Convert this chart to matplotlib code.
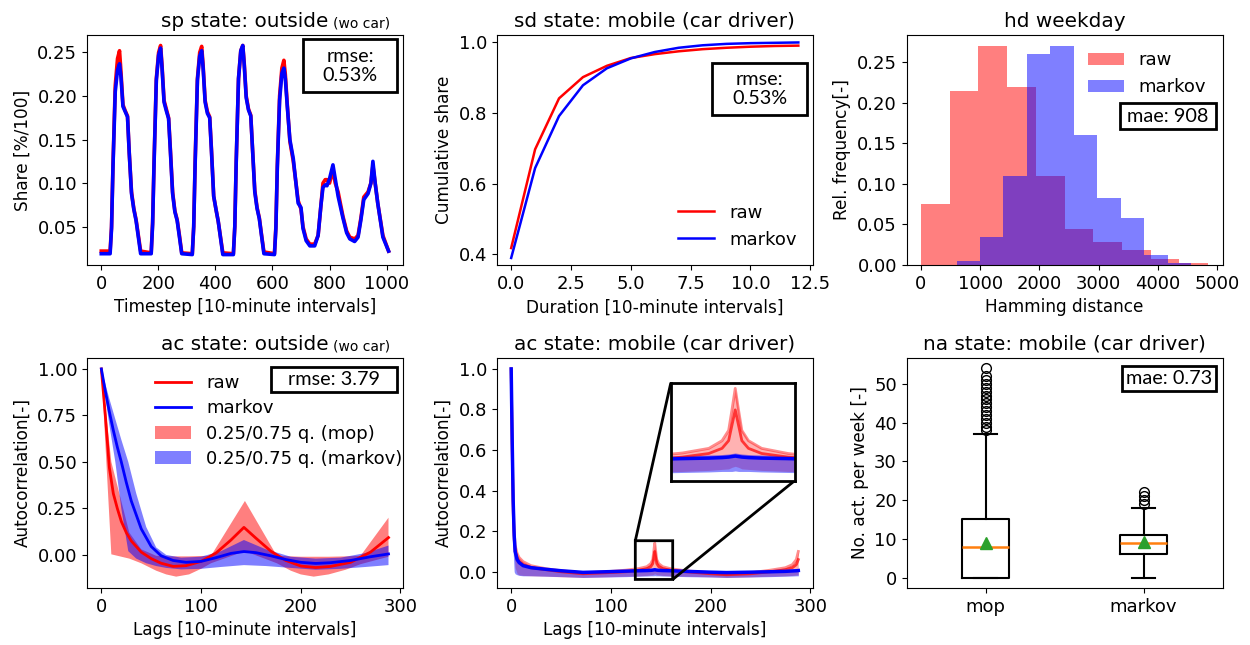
import numpy as np
import matplotlib.pyplot as plt
from matplotlib.patches import Rectangle

# ---- sp: share in state "outside" over one week (10-minute steps)
sp_t = [0, 31, 36, 41, 49, 57, 64, 69, 76, 84, 92, 98, 106, 114, 122, 130, 138,
        175, 180, 185, 193, 201, 208, 213, 220, 228, 236, 242, 250, 258, 266, 274, 282,
        319, 324, 329, 337, 345, 352, 357, 364, 372, 380, 386, 394, 402, 410, 418, 426,
        463, 468, 473, 481, 489, 496, 501, 508, 516, 524, 530, 538, 546, 554, 562, 570,
        607, 612, 617, 625, 633, 640, 645, 652, 661, 673, 690, 700, 707, 718, 731, 748,
        760, 770, 777, 785, 791, 800, 812, 820, 830, 847, 860, 871, 888, 900, 910, 920,
        935, 945, 952, 960, 969, 987, 1007]
sp_raw = [0.022, 0.022, 0.05, 0.12, 0.212, 0.243, 0.252, 0.228, 0.19, 0.183, 0.177, 0.135, 0.09, 0.071, 0.058, 0.04, 0.022,
          0.02, 0.055, 0.125, 0.22, 0.25, 0.258, 0.235, 0.195, 0.185, 0.175, 0.14, 0.09, 0.068, 0.058, 0.04, 0.02,
          0.019, 0.05, 0.125, 0.22, 0.25, 0.257, 0.235, 0.195, 0.182, 0.176, 0.14, 0.085, 0.07, 0.056, 0.038, 0.02,
          0.019, 0.05, 0.125, 0.22, 0.252, 0.258, 0.238, 0.2, 0.185, 0.178, 0.14, 0.092, 0.072, 0.06, 0.04, 0.021,
          0.019, 0.05, 0.12, 0.2, 0.232, 0.241, 0.225, 0.19, 0.148, 0.125, 0.08, 0.07, 0.05, 0.036, 0.03, 0.03,
          0.04, 0.075, 0.1, 0.104, 0.104, 0.1, 0.115, 0.1, 0.09, 0.062, 0.045, 0.038, 0.036, 0.04, 0.06, 0.084,
          0.09, 0.1, 0.12, 0.1, 0.077, 0.04, 0.022]
sp_markov = [0.019, 0.019, 0.048, 0.118, 0.205, 0.23, 0.237, 0.222, 0.188, 0.182, 0.176, 0.135, 0.088, 0.07, 0.057, 0.038, 0.019,
             0.019, 0.053, 0.122, 0.218, 0.247, 0.255, 0.232, 0.193, 0.183, 0.174, 0.138, 0.088, 0.067, 0.057, 0.038, 0.019,
             0.018, 0.05, 0.122, 0.218, 0.246, 0.252, 0.232, 0.193, 0.18, 0.175, 0.138, 0.085, 0.07, 0.056, 0.037, 0.018,
             0.018, 0.05, 0.125, 0.22, 0.252, 0.258, 0.236, 0.198, 0.184, 0.177, 0.14, 0.09, 0.071, 0.059, 0.039, 0.019,
             0.018, 0.048, 0.118, 0.195, 0.226, 0.232, 0.22, 0.188, 0.15, 0.128, 0.077, 0.072, 0.048, 0.034, 0.028, 0.028,
             0.04, 0.075, 0.095, 0.098, 0.097, 0.105, 0.121, 0.105, 0.085, 0.06, 0.043, 0.036, 0.033, 0.038, 0.058, 0.081,
             0.088, 0.1, 0.125, 0.1, 0.077, 0.038, 0.022]

# ---- sd: cumulative share of activity durations (car driver)
sd_dur = [0, 1, 2, 3, 4, 5, 6, 7, 8, 9, 10, 11, 12]
sd_raw = [0.418, 0.697, 0.841, 0.901, 0.933, 0.955, 0.966, 0.974, 0.98, 0.984, 0.987, 0.989, 0.99]
sd_markov = [0.39, 0.644, 0.791, 0.878, 0.926, 0.954, 0.972, 0.984, 0.991, 0.995, 0.997, 0.998, 0.999]

# ---- hd: hamming distance histogram (weekday)
hd_raw_edges = [0, 485, 970, 1455, 1940, 2425, 2910, 3395, 3880, 4365, 4850]
hd_raw_freq = [0.075, 0.215, 0.27, 0.22, 0.11, 0.045, 0.028, 0.018, 0.007, 0.003]
hd_markov_edges = [600, 996, 1392, 1788, 2184, 2580, 2976, 3372, 3768, 4164, 4560]
hd_markov_freq = [0.005, 0.035, 0.11, 0.26, 0.27, 0.16, 0.083, 0.058, 0.012, 0.003]

# ---- ac: autocorrelation outside (wo car)
ac_lags = [0, 4, 8, 12, 16, 20, 25, 30, 40, 50, 60, 72, 85, 100, 115, 130, 143, 155, 170, 185,
           200, 215, 230, 250, 270, 288]
ac_raw = [1.0, 0.75, 0.47, 0.33, 0.25, 0.18, 0.12, 0.075, 0.015, -0.02, -0.045, -0.062, -0.058,
          -0.035, 0.01, 0.08, 0.148, 0.09, 0.02, -0.03, -0.06, -0.068, -0.062, -0.04, 0.015, 0.093]
ac_markov = [1.0, 0.88, 0.77, 0.67, 0.58, 0.5, 0.39, 0.29, 0.14, 0.045, -0.005, -0.03, -0.04,
             -0.035, -0.015, 0.008, 0.018, 0.012, -0.005, -0.025, -0.04, -0.046, -0.042, -0.03, -0.01, 0.005]
acq_raw_lags = [0, 10, 28, 40, 55, 65, 75, 88, 100, 110, 144, 176, 190, 200, 213, 228, 245, 260, 288]
acq_raw_hi = [1.0, 0.5, 0.12, 0.03, -0.005, -0.008, -0.008, -0.008, -0.006, -0.005, 0.29, -0.005,
              -0.008, -0.01, -0.01, -0.01, -0.008, -0.005, 0.2]
acq_raw_lo = [1.0, 0.003, -0.02, -0.045, -0.085, -0.105, -0.117, -0.105, -0.075, -0.045, 0.02, -0.045,
              -0.085, -0.105, -0.117, -0.105, -0.08, -0.05, -0.01]
acq_mk_lags = [0, 8, 14, 20, 27, 35, 45, 55, 65, 80, 100, 120, 143, 165, 190, 215, 240, 265, 288]
acq_mk_hi = [1.0, 0.84, 0.73, 0.62, 0.5, 0.33, 0.15, 0.04, 0.0, -0.015, -0.01, 0.02, 0.08, 0.03,
             -0.01, -0.02, -0.015, 0.01, 0.05]
acq_mk_lo = [1.0, 0.7, 0.5, 0.25, 0.02, -0.02, -0.045, -0.06, -0.07, -0.078, -0.075, -0.065, -0.055,
             -0.06, -0.07, -0.08, -0.075, -0.065, -0.055]

# ---- ac: autocorrelation mobile (car driver)
cd_lags = [0, 1, 2, 3, 4, 6, 8, 12, 20, 35, 50, 72, 95, 115, 128, 136, 140, 142, 143, 144, 145,
           146, 148, 152, 160, 175, 200, 216, 240, 260, 275, 282, 286, 288]
cd_raw = [1.0, 0.6, 0.3, 0.16, 0.1, 0.065, 0.05, 0.035, 0.02, 0.01, 0.0, -0.01, -0.005, 0.0, 0.008,
          0.015, 0.025, 0.04, 0.07, 0.1, 0.07, 0.04, 0.025, 0.015, 0.008, 0.0, -0.01, -0.015, -0.01,
          0.0, 0.01, 0.02, 0.035, 0.06]
cd_raw_hi = [1.0, 0.65, 0.35, 0.2, 0.13, 0.09, 0.07, 0.05, 0.03, 0.015, 0.005, -0.005, 0.0, 0.008,
             0.016, 0.025, 0.04, 0.06, 0.1, 0.142, 0.1, 0.06, 0.04, 0.025, 0.015, 0.005, -0.005, -0.01,
             -0.005, 0.008, 0.02, 0.035, 0.06, 0.1]
cd_raw_lo = [1.0, 0.5, 0.2, 0.08, 0.02, -0.01, -0.015, -0.018, -0.02, -0.022, -0.025, -0.028, -0.025,
             -0.022, -0.02, -0.018, -0.016, -0.015, -0.012, -0.01, -0.012, -0.015, -0.016, -0.018,
             -0.02, -0.022, -0.025, -0.028, -0.025, -0.022, -0.02, -0.018, -0.016, -0.015]
cd_markov = [1.0, 0.65, 0.35, 0.18, 0.1, 0.06, 0.045, 0.03, 0.02, 0.012, 0.005, -0.003, 0.0, 0.003,
             0.005, 0.006, 0.007, 0.008, 0.009, 0.01, 0.009, 0.008, 0.007, 0.006, 0.005, 0.002, -0.002,
             -0.004, -0.002, 0.0, 0.002, 0.004, 0.005, 0.006]
cd_markov_hi = [1.0, 0.7, 0.4, 0.22, 0.13, 0.08, 0.06, 0.042, 0.03, 0.02, 0.012, 0.004, 0.006, 0.009,
                0.011, 0.012, 0.013, 0.014, 0.015, 0.016, 0.015, 0.014, 0.013, 0.012, 0.011, 0.008,
                0.004, 0.002, 0.004, 0.006, 0.008, 0.01, 0.011, 0.012]
cd_markov_lo = [1.0, 0.4, 0.1, 0.0, -0.01, -0.015, -0.018, -0.02, -0.02, -0.022, -0.024, -0.028, -0.026,
                -0.024, -0.022, -0.021, -0.02, -0.02, -0.02, -0.019, -0.02, -0.02, -0.02, -0.021, -0.022,
                -0.024, -0.026, -0.028, -0.026, -0.024, -0.022, -0.021, -0.02, -0.02]

# ---- na: number of activities per week (box plot stats)
na_labels = ['mop', 'markov']
na_whislo = [0, 0]
na_q1 = [0, 6]
na_med = [8, 9]
na_q3 = [15, 11]
na_whishi = [37, 18]
na_mean = [8.8, 9.2]
na_fliers_mop = [38, 39, 40, 41, 42, 43, 44, 45, 46, 47, 48, 49, 50, 51, 52, 54]
na_fliers_markov = [19, 20, 21, 22]

FS = 13      # tick labels
LFS = 12.2   # axis labels
TFS = 14.4   # titles


def stat_box(ax, x0, y0, x1, y1, txt):
    ax.add_patch(Rectangle((x0, y0), x1 - x0, y1 - y0, transform=ax.transAxes,
                           fill=False, ec='black', lw=2, zorder=6, clip_on=False))
    ax.text((x0 + x1) / 2, (y0 + y1) / 2, txt, transform=ax.transAxes, ha='center',
            va='center', fontsize=14.3, family='Lato', zorder=7, linespacing=1.15)


def title_with_note(ax, main, note=None):
    t = ax.set_title(main, fontsize=TFS)
    if note:
        ax.annotate(note, xy=(1, 0), xycoords=t, xytext=(3, 0), textcoords='offset points',
                    fontsize=10, va='bottom', ha='left')


fig, axes = plt.subplots(2, 3, figsize=(12.5, 6.45), dpi=100)
fig.subplots_adjust(left=0.0696, right=0.978, bottom=0.0884, top=0.9457, wspace=0.2975, hspace=0.404)
for a in axes.flat:
    a.tick_params(labelsize=FS)

# sp
ax = axes[0, 0]
ax.plot(sp_t, sp_raw, color='red', lw=2.6)
ax.plot(sp_t, sp_markov, color='blue', lw=2.6)
ax.set_xlim(-50, 1057)
ax.set_ylim(0.006, 0.27)
ax.set_xticks([0, 200, 400, 600, 800, 1000])
ax.set_yticks([0.05, 0.10, 0.15, 0.20, 0.25])
ax.set_xlabel('Timestep [10-minute intervals]', fontsize=LFS)
ax.set_ylabel('Share [%/100]', fontsize=LFS)
title_with_note(ax, 'sp state: outside', '(wo car)')
stat_box(ax, 0.683, 0.753, 0.982, 0.981, 'rmse:\n0.53%')

# sd
ax = axes[0, 1]
ax.plot(sd_dur, sd_raw, color='red', lw=1.8, label='raw')
ax.plot(sd_dur, sd_markov, color='blue', lw=1.8, label='markov')
ax.set_xlim(-0.6, 12.6)
ax.set_ylim(0.37, 1.02)
ax.set_xticks([0, 2.5, 5, 7.5, 10, 12.5])
ax.set_yticks([0.4, 0.6, 0.8, 1.0])
ax.set_xlabel('Duration [10-minute intervals]', fontsize=LFS)
ax.set_ylabel('Cumulative share', fontsize=LFS)
ax.set_title('sd state: mobile (car driver)', fontsize=TFS)
ax.legend(loc='lower right', frameon=False, fontsize=FS)
stat_box(ax, 0.682, 0.654, 0.981, 0.877, 'rmse:\n0.53%')

# hd
ax = axes[0, 2]
ax.stairs(hd_raw_freq, hd_raw_edges, fill=True, color='red', alpha=0.5, label='raw')
ax.stairs(hd_markov_freq, hd_markov_edges, fill=True, color='blue', alpha=0.5, label='markov')
ax.set_xlim(-242, 5092)
ax.set_ylim(0, 0.2835)
ax.set_xticks([0, 1000, 2000, 3000, 4000, 5000])
ax.set_yticks([0.0, 0.05, 0.10, 0.15, 0.20, 0.25])
ax.set_xlabel('Hamming distance', fontsize=LFS)
ax.set_ylabel('Rel. frequency[-]', fontsize=LFS)
ax.set_title('hd weekday', fontsize=TFS)
ax.legend(loc='upper right', frameon=False, fontsize=FS)
stat_box(ax, 0.676, 0.592, 0.978, 0.703, 'mae: 908')

# ac outside
ax = axes[1, 0]
ax.fill(np.r_[acq_raw_lags, acq_raw_lags[::-1]], np.r_[acq_raw_hi, acq_raw_lo[::-1]],
        color='red', alpha=0.5, lw=0, label='0.25/0.75 q. (mop)')
ax.fill(np.r_[acq_mk_lags, acq_mk_lags[::-1]], np.r_[acq_mk_hi, acq_mk_lo[::-1]],
        color='blue', alpha=0.5, lw=0, label='0.25/0.75 q. (markov)')
ax.plot(ac_lags, ac_raw, color='red', lw=2, label='raw')
ax.plot(ac_lags, ac_markov, color='blue', lw=2, label='markov')
ax.set_xlim(-14.4, 302.4)
ax.set_ylim(-0.178, 1.059)
ax.set_xticks([0, 100, 200, 300])
ax.set_yticks([0.0, 0.25, 0.5, 0.75, 1.0])
ax.set_xlabel('Lags [10-minute intervals]', fontsize=LFS)
ax.set_ylabel('Autocorrelation[-]', fontsize=LFS)
title_with_note(ax, 'ac state: outside', '(wo car)')
h, l = ax.get_legend_handles_labels()
order = [2, 3, 0, 1]
ax.legend([h[i] for i in order], [l[i] for i in order], loc='upper left',
          bbox_to_anchor=(0.165, 1.0), frameon=False, fontsize=FS, labelspacing=0.4)
stat_box(ax, 0.584, 0.853, 0.982, 0.962, 'rmse: 3.79')

# ac car driver (with zoomed inset)
ax = axes[1, 1]
axins = ax.inset_axes([0.551, 0.4665, 0.392, 0.426])
for a in (ax, axins):
    a.fill_between(cd_lags, cd_raw_lo, cd_raw_hi, color='red', alpha=0.3, lw=0)
    a.plot(cd_lags, cd_raw_hi, color='red', alpha=0.45, lw=2)
    a.plot(cd_lags, cd_raw, color='red', alpha=0.7, lw=2)
    a.fill_between(cd_lags, cd_markov_lo, cd_markov_hi, color='blue', alpha=0.45, lw=0)
    a.plot(cd_lags, cd_markov, color='blue', lw=2.5)
ax.set_xlim(-14.4, 302.4)
ax.set_ylim(-0.08, 1.054)
ax.set_xticks([0, 100, 200, 300])
ax.set_yticks([0.0, 0.2, 0.4, 0.6, 0.8, 1.0])
ax.set_xlabel('Lags [10-minute intervals]', fontsize=LFS)
ax.set_ylabel('Autocorrelation[-]', fontsize=LFS)
ax.set_title('ac state: mobile (car driver)', fontsize=TFS)
axins.set_xlim(124.5, 162)
axins.set_ylim(-0.038, 0.153)
axins.set_xticks([])
axins.set_yticks([])
for s in axins.spines.values():
    s.set_linewidth(2)
ind = ax.indicate_inset_zoom(axins, edgecolor='black', alpha=1, linewidth=2)
try:
    conns = ind.connectors
except AttributeError:
    conns = ind[1]
for c, vis in zip(conns, [False, True, True, False]):
    c.set_visible(vis)

# na box plot
ax = axes[1, 2]
na_fliers = [na_fliers_mop, na_fliers_markov]
stats = [dict(label=na_labels[i], whislo=na_whislo[i], q1=na_q1[i], med=na_med[i],
              q3=na_q3[i], whishi=na_whishi[i], mean=na_mean[i], fliers=na_fliers[i])
         for i in range(2)]
ax.bxp(stats, widths=0.3, showmeans=True,
       boxprops=dict(linewidth=1.5), whiskerprops=dict(linewidth=1.5),
       capprops=dict(linewidth=1.5), medianprops=dict(linewidth=1.8, color='tab:orange'),
       meanprops=dict(marker='^', markerfacecolor='tab:green', markeredgecolor='tab:green', markersize=8),
       flierprops=dict(marker='o', markersize=7, markerfacecolor='none', markeredgecolor='black'))
ax.set_ylim(-2.7, 56.7)
ax.set_yticks([0, 10, 20, 30, 40, 50])
ax.set_ylabel('No. act. per week [-]', fontsize=LFS)
ax.set_title('na state: mobile (car driver)', fontsize=TFS)
stat_box(ax, 0.682, 0.857, 0.981, 0.967, 'mae: 0.73')

fig.savefig('out.png', dpi=100)
